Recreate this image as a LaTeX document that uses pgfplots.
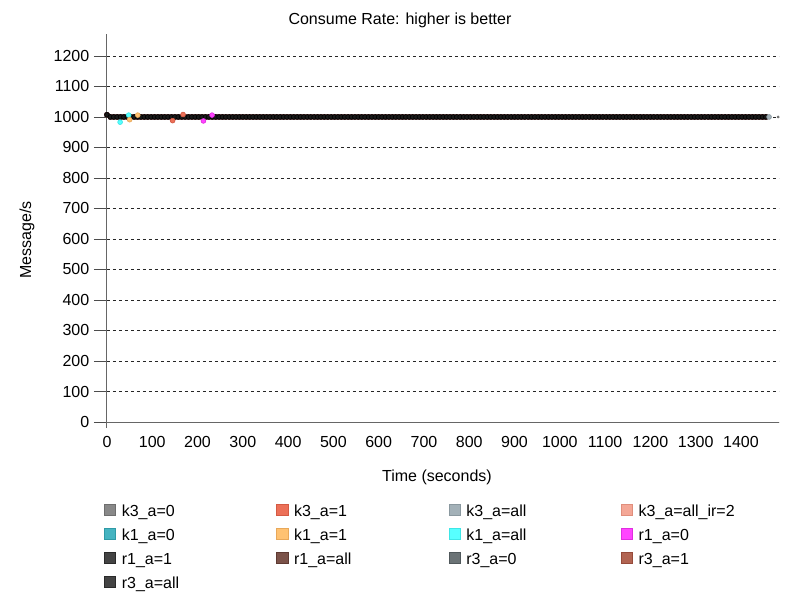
\documentclass[border=0pt]{standalone}
\usepackage{fontspec}
\setmainfont{Liberation Sans}
\usepackage{pgfplots}
\pgfplotsset{compat=1.18}
\usepackage{pgfplotstable}

\definecolor{cA}{HTML}{888888}\definecolor{bA}{HTML}{6E6E6E}
\definecolor{cB}{HTML}{EC7058}\definecolor{bB}{HTML}{D45A44}
\definecolor{cC}{HTML}{A3B1B8}\definecolor{bC}{HTML}{8A989F}
\definecolor{cD}{HTML}{F4A796}\definecolor{bD}{HTML}{E08E7C}
\definecolor{cE}{HTML}{45B4C1}\definecolor{bE}{HTML}{2F9AA6}
\definecolor{cF}{HTML}{FFC272}\definecolor{bF}{HTML}{E8A85A}
\definecolor{cG}{HTML}{57FFFF}\definecolor{bG}{HTML}{3EE6E6}
\definecolor{cH}{HTML}{FF44FF}\definecolor{bH}{HTML}{E02EE0}
\definecolor{cI}{HTML}{444444}\definecolor{bI}{HTML}{2A2A2A}
\definecolor{cJ}{HTML}{7B5249}\definecolor{bJ}{HTML}{5E3A32}
\definecolor{cK}{HTML}{6B7376}\definecolor{bK}{HTML}{50585B}
\definecolor{cL}{HTML}{B26452}\definecolor{bL}{HTML}{964A3A}
\definecolor{cM}{HTML}{444444}\definecolor{bM}{HTML}{2A2A2A}
\definecolor{dM}{HTML}{1A1A1A}

\pgfplotstableread[row sep=\\]{
x y\\
0 1007\\ 7.5 1000\\ 15 1000\\ 22.5 1000\\ 30 1000\\ 37.5 1000\\ 45 1000\\ 52.5 1000\\ 60 1000\\ 67.5 1000\\
75 1000\\ 82.5 1000\\ 90 1000\\ 97.5 1000\\ 105 1000\\ 112.5 1000\\ 120 1000\\ 127.5 1000\\ 135 1000\\ 142.5 1000\\
150 1000\\ 157.5 1000\\ 165 1000\\ 172.5 1000\\ 180 1000\\ 187.5 1000\\ 195 1000\\ 202.5 1000\\ 210 1000\\ 217.5 1000\\
225 1000\\ 232.5 1000\\ 240 1000\\ 247.5 1000\\ 255 1000\\ 262.5 1000\\ 270 1000\\ 277.5 1000\\ 285 1000\\ 292.5 1000\\
300 1000\\ 307.5 1000\\ 315 1000\\ 322.5 1000\\ 330 1000\\ 337.5 1000\\ 345 1000\\ 352.5 1000\\ 360 1000\\ 367.5 1000\\
375 1000\\ 382.5 1000\\ 390 1000\\ 397.5 1000\\ 405 1000\\ 412.5 1000\\ 420 1000\\ 427.5 1000\\ 435 1000\\ 442.5 1000\\
450 1000\\ 457.5 1000\\ 465 1000\\ 472.5 1000\\ 480 1000\\ 487.5 1000\\ 495 1000\\ 502.5 1000\\ 510 1000\\ 517.5 1000\\
525 1000\\ 532.5 1000\\ 540 1000\\ 547.5 1000\\ 555 1000\\ 562.5 1000\\ 570 1000\\ 577.5 1000\\ 585 1000\\ 592.5 1000\\
600 1000\\ 607.5 1000\\ 615 1000\\ 622.5 1000\\ 630 1000\\ 637.5 1000\\ 645 1000\\ 652.5 1000\\ 660 1000\\ 667.5 1000\\
675 1000\\ 682.5 1000\\ 690 1000\\ 697.5 1000\\ 705 1000\\ 712.5 1000\\ 720 1000\\ 727.5 1000\\ 735 1000\\ 742.5 1000\\
750 1000\\ 757.5 1000\\ 765 1000\\ 772.5 1000\\ 780 1000\\ 787.5 1000\\ 795 1000\\ 802.5 1000\\ 810 1000\\ 817.5 1000\\
825 1000\\ 832.5 1000\\ 840 1000\\ 847.5 1000\\ 855 1000\\ 862.5 1000\\ 870 1000\\ 877.5 1000\\ 885 1000\\ 892.5 1000\\
900 1000\\ 907.5 1000\\ 915 1000\\ 922.5 1000\\ 930 1000\\ 937.5 1000\\ 945 1000\\ 952.5 1000\\ 960 1000\\ 967.5 1000\\
975 1000\\ 982.5 1000\\ 990 1000\\ 997.5 1000\\ 1005 1000\\ 1012.5 1000\\ 1020 1000\\ 1027.5 1000\\ 1035 1000\\ 1042.5 1000\\
1050 1000\\ 1057.5 1000\\ 1065 1000\\ 1072.5 1000\\ 1080 1000\\ 1087.5 1000\\ 1095 1000\\ 1102.5 1000\\ 1110 1000\\ 1117.5 1000\\
1125 1000\\ 1132.5 1000\\ 1140 1000\\ 1147.5 1000\\ 1155 1000\\ 1162.5 1000\\ 1170 1000\\ 1177.5 1000\\ 1185 1000\\ 1192.5 1000\\
1200 1000\\ 1207.5 1000\\ 1215 1000\\ 1222.5 1000\\ 1230 1000\\ 1237.5 1000\\ 1245 1000\\ 1252.5 1000\\ 1260 1000\\ 1267.5 1000\\
1275 1000\\ 1282.5 1000\\ 1290 1000\\ 1297.5 1000\\ 1305 1000\\ 1312.5 1000\\ 1320 1000\\ 1327.5 1000\\ 1335 1000\\ 1342.5 1000\\
1350 1000\\ 1357.5 1000\\ 1365 1000\\ 1372.5 1000\\ 1380 1000\\ 1387.5 1000\\ 1395 1000\\ 1402.5 1000\\ 1410 1000\\ 1417.5 1000\\
1425 1000\\ 1432.5 1000\\ 1440 1000\\ 1447.5 1000\\ 1455 1000\\
}\base

\pgfplotsset{ser/.style 2 args={only marks, mark=*, mark size=1.8pt, fill=#1, draw=#2, line width=0.5pt}}
\newcommand{\lab}[1]{\makebox[116pt][l]{#1}}

\begin{document}
\begin{tikzpicture}
\begin{axis}[
  scale only axis, width=504pt, height=291pt,
  xmin=0, xmax=1484, ymin=0, ymax=1272,
  axis x line*=bottom, axis y line*=left,
  axis line style={-, draw=black!60, line width=0.75pt},
  y axis line style={shorten <=-4.5pt},
  xtick={0,100,...,1400}, ytick={0,100,...,1200},
  xtick style={draw=none},
  ytick style={draw=black!70, line width=0.6pt},
  tick align=outside, major tick length=9.75pt,
  ymajorgrids, grid style={dash pattern=on 2.5pt off 2pt, black!85, line width=0.6pt},
  tick label style={font=\fontsize{12}{14}\selectfont},
  xticklabel style={yshift=2.2pt},
  /pgf/number format/assume math mode=true,
  /pgf/number format/set thousands separator={},
  clip=false,
  title={Consume Rate: higher is better},
  every axis title/.style={at={(rel axis cs:0.436,1.036)}, anchor=center, font=\fontsize{12}{14}\selectfont},
  xlabel={Time (seconds)},
  every axis x label/.style={at={(rel axis cs:0.491,-0.1418)}, anchor=center, font=\fontsize{12}{14}\selectfont},
  ylabel={Message/s},
  every axis y label/.style={at={(rel axis cs:-0.119,0.469)}, rotate=90, anchor=center, font=\fontsize{12}{14}\selectfont},
  legend columns=4,
  legend cell align=left,
  legend image code/.code={\filldraw[#1, line width=0.6pt] (0pt,-2.25pt) rectangle (8.3pt,6.05pt);},
  legend style={at={(rel axis cs:-0.0045,-0.2113)}, anchor=north west, draw=none, fill=none,
    inner sep=0pt, row sep=5.6pt, column sep=0pt,
    nodes={inner sep=0pt, text height=9pt, text depth=3pt, font=\fontsize{12}{14}\selectfont},
    /tikz/every odd column/.append style={column sep=4.3pt}},
]
\path (rel axis cs:-0.1592,-0.4588) rectangle (rel axis cs:1.03125,1.0876);

\addplot[ser={cA}{bA}] table[x=x,y=y]{\base}; \addlegendentry{\lab{k3\_a=0}}
\addplot[ser={cB}{bB}] table[x=x,y=y]{\base}; \addlegendentry{\lab{k3\_a=1}}
\addplot[ser={cC}{bC}] table[x=x,y=y]{\base}; \addlegendentry{\lab{k3\_a=all}}
\addplot[ser={cD}{bD}] table[x=x,y=y]{\base}; \addlegendentry{\lab{k3\_a=all\_ir=2}}
\addplot[ser={cE}{bE}] table[x=x,y=y]{\base}; \addlegendentry{\lab{k1\_a=0}}
\addplot[ser={cF}{bF}] table[x=x,y=y]{\base}; \addlegendentry{\lab{k1\_a=1}}
\addplot[ser={cG}{bG}] table[x=x,y=y]{\base}; \addlegendentry{\lab{k1\_a=all}}
\addplot[ser={cH}{bH}] table[x=x,y=y]{\base}; \addlegendentry{\lab{r1\_a=0}}
\addplot[ser={cI}{bI}] table[x=x,y=y]{\base}; \addlegendentry{\lab{r1\_a=1}}
\addplot[ser={cJ}{bJ}] table[x=x,y=y]{\base}; \addlegendentry{\lab{r1\_a=all}}
\addplot[ser={cK}{bK}] table[x=x,y=y]{\base}; \addlegendentry{\lab{r3\_a=0}}
\addplot[ser={cL}{bL}] table[x=x,y=y]{\base}; \addlegendentry{\lab{r3\_a=1}}
\addplot[ser={cM}{bM}, mark options={fill=dM, draw=black}] table[x=x,y=y]{\base}; \addlegendentry{\lab{r3\_a=all}}

% deviating points
\addplot[ser={cG}{bG}, forget plot] coordinates {(29,983) (48,1006)};
\addplot[ser={cF}{bF}, forget plot] coordinates {(50,991) (68,1006)};
\addplot[ser={cB}{bB}, forget plot] coordinates {(145,988) (168,1008)};
\addplot[ser={cH}{bH}, forget plot] coordinates {(213,987) (232,1006)};
\addplot[ser={cC}{bC}, forget plot] coordinates {(1462,1000)};
\addplot[ser={cA}{bA}, forget plot, mark size=0.8pt] coordinates {(1482,1000)};
\end{axis}
\end{tikzpicture}
\end{document}
